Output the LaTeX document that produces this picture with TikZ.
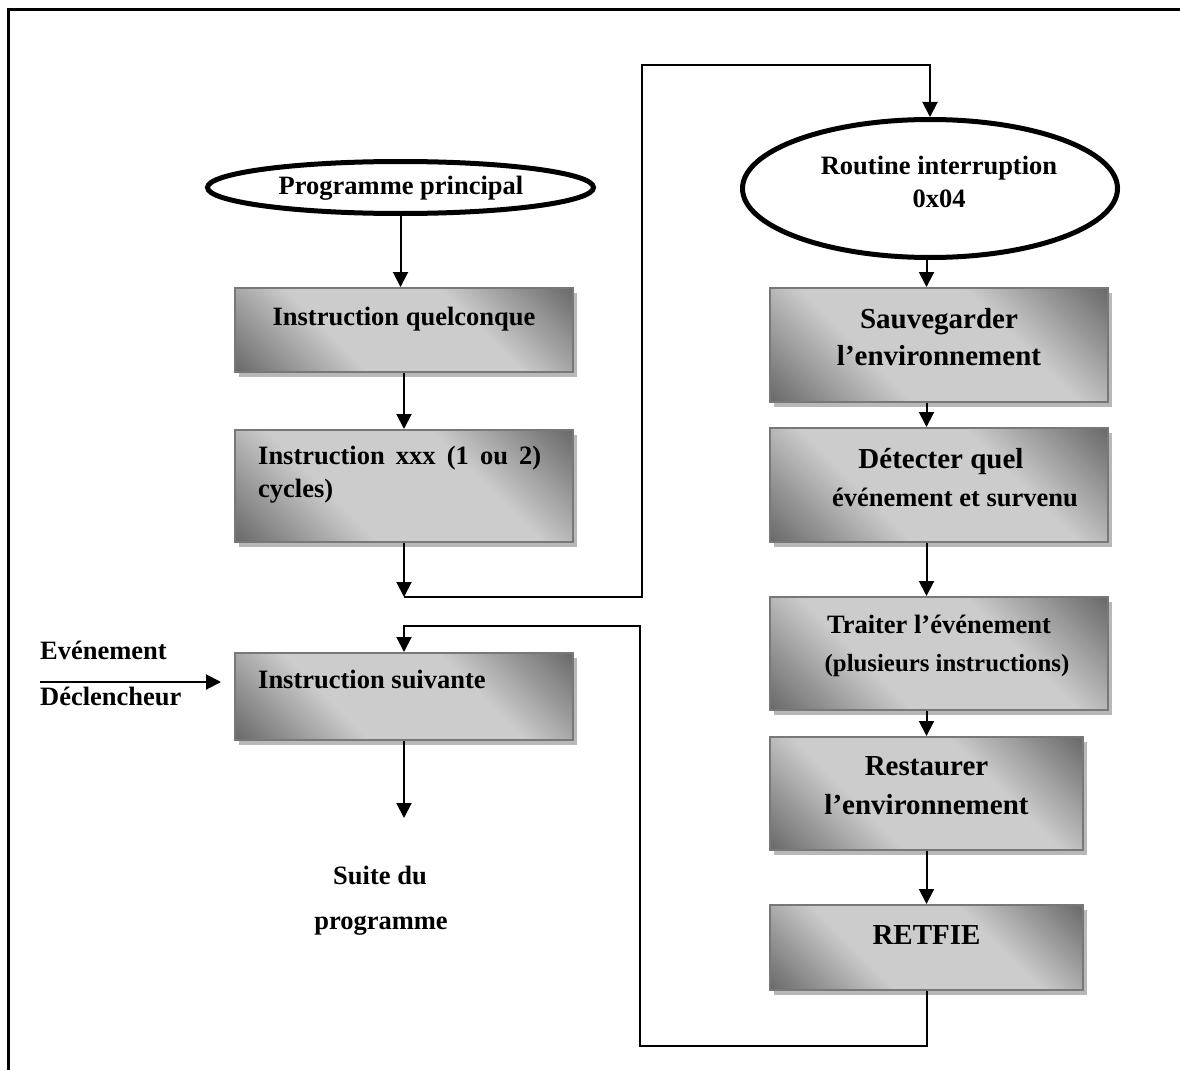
\documentclass[tikz,border=0pt]{standalone}
\usepackage{fontspec}
\setmainfont{Liberation Serif}
\usetikzlibrary{shapes.geometric,arrows.meta,shadows}

\definecolor{shdark}{gray}{0.40}
\definecolor{shlight}{gray}{0.80}
\definecolor{boxedge}{gray}{0.47}
\definecolor{shadowgray}{gray}{0.72}

% diagonal grey fill: dark corners, light band along the diagonal
\pgfdeclarehorizontalshading{boxfill}{100bp}{color(0bp)=(shdark); color(14bp)=(shdark); color(37bp)=(shlight); color(63bp)=(shlight); color(86bp)=(shdark); color(100bp)=(shdark)}

\tikzset{
  stepbox/.style={rectangle, draw=boxedge, line width=2pt, shade, shading=boxfill,
    shading angle=45, inner sep=0pt,
    general shadow={fill=shadowgray, shadow xshift=4pt, shadow yshift=-5pt}},
  oval/.style={ellipse, draw=black, line width=5pt, fill=white, inner sep=0pt},
  txt/.style={inner sep=0pt, anchor=base, font=\fontsize{26.5}{30}\selectfont\bfseries},
  txtbig/.style={txt, font=\fontsize{29}{33}\selectfont\bfseries},
  txtsmall/.style={txt, font=\fontsize{24.8}{28}\selectfont\bfseries},
  flow/.style={line width=2pt, -{Triangle[width=15pt,length=15pt]}},
}

\begin{document}
\begin{tikzpicture}[x=1pt,y=-1pt]
\useasboundingbox (0,0) rectangle (1180,1070);

% page frame (top and left edges)
\draw[line width=3pt] (8.3,1070) -- (8.3,9.5) -- (1180,9.5);

% main program column
\node[oval, minimum width=386pt, minimum height=52pt] (main) at (400.5,187.5) {};
\node[txt] (mainT) at (401,194) {Programme principal};

\node[stepbox, minimum width=338pt, minimum height=84pt] (any) at (404,330) {};
\node[txt] (anyT) at (404,325) {Instruction quelconque};

\node[stepbox, minimum width=338pt, minimum height=112pt] (xxx) at (404,486) {};
\node[txt, anchor=base west] (xxxT1) at (258,464) {\makebox[283pt][s]{Instruction xxx (1 ou 2)}};
\node[txt, anchor=base west] (xxxT2) at (258,497) {cycles)};

\node[stepbox, minimum width=338pt, minimum height=87pt] (next) at (404,696.5) {};
\node[txt, anchor=base west] (nextT) at (258,688) {Instruction suivante};

\node[txt] (suite1) at (380,884) {Suite du};
\node[txt] (suite2) at (381,929) {programme};

\node[txt, anchor=base west] (ev1) at (40,659) {Evénement};
\node[txt, anchor=base west] (ev2) at (40,705) {Déclencheur};

% interrupt routine column
\node[oval, minimum width=375pt, minimum height=138pt] (isr) at (930,188.5) {};
\node[txt] (isrT1) at (939,174) {Routine interruption};
\node[txt] (isrT2) at (939,207) {0x04};

\node[stepbox, minimum width=338pt, minimum height=114pt] (save) at (939,345) {};
\node[txtbig] (saveT1) at (939,328) {Sauvegarder};
\node[txtbig] (saveT2) at (939,365) {l’environnement};

\node[stepbox, minimum width=338pt, minimum height=114pt] (detect) at (939,485) {};
\node[txtbig] (detectT1) at (941,468) {Détecter quel};
\node[txt] (detectT2) at (955,506) {événement et survenu};

\node[stepbox, minimum width=338pt, minimum height=113pt] (treat) at (939,653.5) {};
\node[txt] (treatT1) at (939,633) {Traiter l’événement};
\node[txtsmall] (treatT2) at (947,671) {(plusieurs instructions)};

\node[stepbox, minimum width=313pt, minimum height=113pt] (restore) at (926.5,793.5) {};
\node[txtbig] (restoreT1) at (926.5,775) {Restaurer};
\node[txtbig] (restoreT2) at (926.5,814) {l’environnement};

\node[stepbox, minimum width=313pt, minimum height=85pt] (ret) at (926.5,947.5) {};
\node[txtbig] (retT) at (926.5,944) {RETFIE};

% connector bends
\coordinate (jumpL) at (404,597);
\coordinate (jumpTop) at (642,65);
\coordinate (backL) at (404,626);
\coordinate (backB) at (640,1046);
\coordinate (endL) at (404,818);
\coordinate (evIn) at (40,682);

% connectors
\draw[flow] (main.south) -- (main.south |- any.north);
\draw[flow] (any.south) -- (xxx.north);
\draw[flow] (xxx.south) -- (jumpL);
\draw[flow] (jumpL) -| (jumpTop) -| (isr.north);
\draw[flow] (isr.south -| ret.north) -- (save.north -| ret.north);
\draw[flow] (save.south -| ret.north) -- (detect.north -| ret.north);
\draw[flow] (detect.south -| ret.north) -- (treat.north -| ret.north);
\draw[flow] (treat.south -| ret.north) -- (restore.north);
\draw[flow] (restore.south) -- (ret.north);
\draw[flow] (ret.south) |- (backB) |- (backL) -- (next.north);
\draw[flow] (next.south) -- (endL);
\draw[flow] (evIn) -- ([xshift=-13pt]evIn -| next.west);
\end{tikzpicture}
\end{document}
